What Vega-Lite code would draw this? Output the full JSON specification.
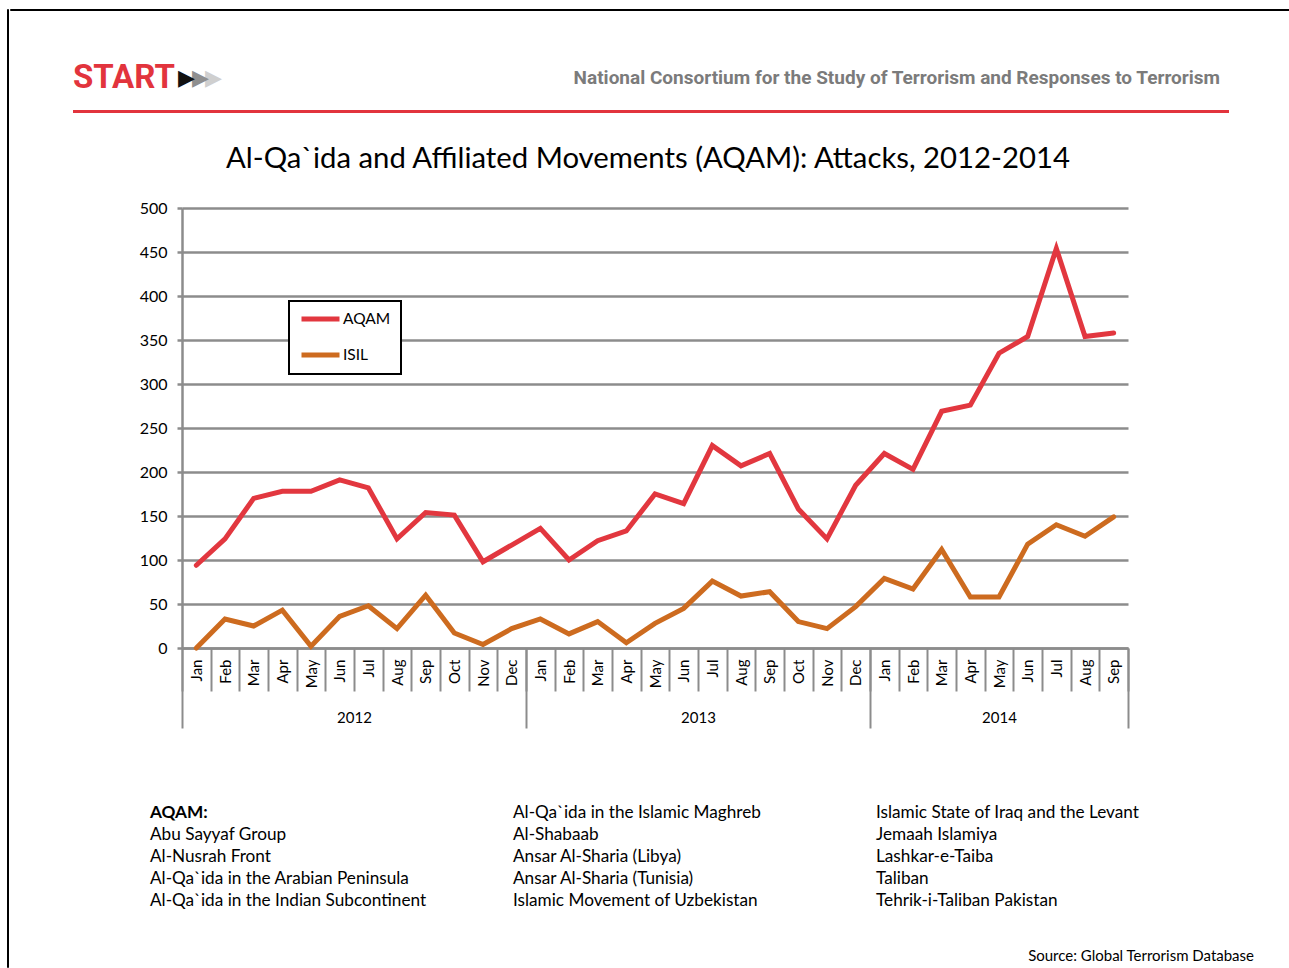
{
  "$schema": "https://vega.github.io/schema/vega-lite/v6.json",
  "autosize": {"type": "pad"},
  "padding": {"left": 6, "top": 8, "right": 0, "bottom": 0},
  "background": "white",
  "config": {
    "view": {"stroke": null},
    "font": "Lato",
    "legend": {"strokeWidth": 2}
  },
  "datasets": {
    "attacks": [
      {"month": "2012-01", "series": "AQAM", "attacks": 94},
      {"month": "2012-02", "series": "AQAM", "attacks": 124},
      {"month": "2012-03", "series": "AQAM", "attacks": 170},
      {"month": "2012-04", "series": "AQAM", "attacks": 178},
      {"month": "2012-05", "series": "AQAM", "attacks": 178},
      {"month": "2012-06", "series": "AQAM", "attacks": 191},
      {"month": "2012-07", "series": "AQAM", "attacks": 182},
      {"month": "2012-08", "series": "AQAM", "attacks": 124},
      {"month": "2012-09", "series": "AQAM", "attacks": 154},
      {"month": "2012-10", "series": "AQAM", "attacks": 151},
      {"month": "2012-11", "series": "AQAM", "attacks": 98},
      {"month": "2012-12", "series": "AQAM", "attacks": 117},
      {"month": "2013-01", "series": "AQAM", "attacks": 136},
      {"month": "2013-02", "series": "AQAM", "attacks": 100},
      {"month": "2013-03", "series": "AQAM", "attacks": 122},
      {"month": "2013-04", "series": "AQAM", "attacks": 133},
      {"month": "2013-05", "series": "AQAM", "attacks": 175},
      {"month": "2013-06", "series": "AQAM", "attacks": 164},
      {"month": "2013-07", "series": "AQAM", "attacks": 230},
      {"month": "2013-08", "series": "AQAM", "attacks": 207},
      {"month": "2013-09", "series": "AQAM", "attacks": 221},
      {"month": "2013-10", "series": "AQAM", "attacks": 158},
      {"month": "2013-11", "series": "AQAM", "attacks": 124},
      {"month": "2013-12", "series": "AQAM", "attacks": 185},
      {"month": "2014-01", "series": "AQAM", "attacks": 221},
      {"month": "2014-02", "series": "AQAM", "attacks": 203},
      {"month": "2014-03", "series": "AQAM", "attacks": 269},
      {"month": "2014-04", "series": "AQAM", "attacks": 276},
      {"month": "2014-05", "series": "AQAM", "attacks": 335},
      {"month": "2014-06", "series": "AQAM", "attacks": 354},
      {"month": "2014-07", "series": "AQAM", "attacks": 454},
      {"month": "2014-08", "series": "AQAM", "attacks": 354},
      {"month": "2014-09", "series": "AQAM", "attacks": 358},
      {"month": "2012-01", "series": "ISIL", "attacks": 0},
      {"month": "2012-02", "series": "ISIL", "attacks": 33},
      {"month": "2012-03", "series": "ISIL", "attacks": 25},
      {"month": "2012-04", "series": "ISIL", "attacks": 43},
      {"month": "2012-05", "series": "ISIL", "attacks": 2},
      {"month": "2012-06", "series": "ISIL", "attacks": 36},
      {"month": "2012-07", "series": "ISIL", "attacks": 48},
      {"month": "2012-08", "series": "ISIL", "attacks": 22},
      {"month": "2012-09", "series": "ISIL", "attacks": 60},
      {"month": "2012-10", "series": "ISIL", "attacks": 17},
      {"month": "2012-11", "series": "ISIL", "attacks": 4},
      {"month": "2012-12", "series": "ISIL", "attacks": 22},
      {"month": "2013-01", "series": "ISIL", "attacks": 33},
      {"month": "2013-02", "series": "ISIL", "attacks": 16},
      {"month": "2013-03", "series": "ISIL", "attacks": 30},
      {"month": "2013-04", "series": "ISIL", "attacks": 6},
      {"month": "2013-05", "series": "ISIL", "attacks": 28},
      {"month": "2013-06", "series": "ISIL", "attacks": 45},
      {"month": "2013-07", "series": "ISIL", "attacks": 76},
      {"month": "2013-08", "series": "ISIL", "attacks": 59},
      {"month": "2013-09", "series": "ISIL", "attacks": 64},
      {"month": "2013-10", "series": "ISIL", "attacks": 30},
      {"month": "2013-11", "series": "ISIL", "attacks": 22},
      {"month": "2013-12", "series": "ISIL", "attacks": 47},
      {"month": "2014-01", "series": "ISIL", "attacks": 79},
      {"month": "2014-02", "series": "ISIL", "attacks": 67},
      {"month": "2014-03", "series": "ISIL", "attacks": 112},
      {"month": "2014-04", "series": "ISIL", "attacks": 58},
      {"month": "2014-05", "series": "ISIL", "attacks": 58},
      {"month": "2014-06", "series": "ISIL", "attacks": 118},
      {"month": "2014-07", "series": "ISIL", "attacks": 140},
      {"month": "2014-08", "series": "ISIL", "attacks": 127},
      {"month": "2014-09", "series": "ISIL", "attacks": 149}
    ],
    "groups": [
      {"column": "c1", "line": "l1", "name": "AQAM:"},
      {"column": "c1", "line": "l2", "name": "Abu Sayyaf Group"},
      {"column": "c1", "line": "l3", "name": "Al-Nusrah Front"},
      {"column": "c1", "line": "l4", "name": "Al-Qa`ida in the Arabian Peninsula"},
      {"column": "c1", "line": "l5", "name": "Al-Qa`ida in the Indian Subcontinent"},
      {"column": "c2", "line": "l1", "name": "Al-Qa`ida in the Islamic Maghreb"},
      {"column": "c2", "line": "l2", "name": "Al-Shabaab"},
      {"column": "c2", "line": "l3", "name": "Ansar Al-Sharia (Libya)"},
      {"column": "c2", "line": "l4", "name": "Ansar Al-Sharia (Tunisia)"},
      {"column": "c2", "line": "l5", "name": "Islamic Movement of Uzbekistan"},
      {"column": "c3", "line": "l1", "name": "Islamic State of Iraq and the Levant"},
      {"column": "c3", "line": "l2", "name": "Jemaah Islamiya"},
      {"column": "c3", "line": "l3", "name": "Lashkar-e-Taiba"},
      {"column": "c3", "line": "l4", "name": "Taliban"},
      {"column": "c3", "line": "l5", "name": "Tehrik-i-Taliban Pakistan"}
    ]
  },
  "spacing": 0,
  "resolve": {"scale": {"color": "independent"}, "legend": {"color": "independent"}},
  "hconcat": [
    {
      "width": 1, "height": 958,
      "view": {"stroke": "black", "strokeWidth": 1},
      "data": {"values": [{}]},
      "mark": {"type": "point", "size": 0, "opacity": 0, "strokeWidth": 0}
    },
    {
      "spacing": 30.5,
      "resolve": {"scale": {"color": "independent"}, "legend": {"color": "independent"}},
      "vconcat": [
        {
          "width": 1280, "height": 1,
          "view": {"stroke": "black", "strokeWidth": 1},
          "data": {"values": [{}]},
          "mark": {"type": "point", "size": 0, "opacity": 0, "strokeWidth": 0}
        },
        {
          "spacing": 0,
          "hconcat": [
            {
              "width": 60.5, "height": 1,
              "data": {"values": [{}]},
              "mark": {"type": "point", "size": 0, "opacity": 0, "strokeWidth": 0}
            },
            {
              "width": 1156, "height": 34,
              "layer": [
                {
                  "data": {"values": [{"side": "left", "part": "text", "label": "START"}]},
                  "mark": {"type": "text", "align": "left", "baseline": "middle", "font": "Roboto", "fontWeight": "bold", "fontSize": 33, "color": "#E2343D"},
                  "encoding": {
                    "x": {"field": "side", "type": "nominal", "scale": {"type": "point", "padding": 0, "domain": ["left", "right"]},
                          "axis": {"orient": "top", "title": null, "labels": false, "ticks": false, "domain": false, "grid": false, "minExtent": 35.5, "maxExtent": 35.5}},
                    "y": {"field": "part", "type": "nominal", "scale": {"type": "point", "padding": 0, "domain": ["text", "rule"]}, "axis": null},
                    "text": {"field": "label"}
                  }
                },
                {
                  "data": {"values": [{"side": "left", "part": "text", "label": "▶"}]},
                  "mark": {"type": "text", "align": "left", "baseline": "middle", "font": "DejaVu Sans", "fontSize": 22, "color": "#cfcfcf", "dx": 132},
                  "encoding": {
                    "x": {"field": "side", "type": "nominal"},
                    "y": {"field": "part", "type": "nominal"},
                    "text": {"field": "label"}
                  }
                },
                {
                  "data": {"values": [{"side": "left", "part": "text", "label": "▶"}]},
                  "mark": {"type": "text", "align": "left", "baseline": "middle", "font": "DejaVu Sans", "fontSize": 22, "color": "#8f8f8f", "dx": 119},
                  "encoding": {
                    "x": {"field": "side", "type": "nominal"},
                    "y": {"field": "part", "type": "nominal"},
                    "text": {"field": "label"}
                  }
                },
                {
                  "data": {"values": [{"side": "left", "part": "text", "label": "▶"}]},
                  "mark": {"type": "text", "align": "left", "baseline": "middle", "font": "DejaVu Sans", "fontSize": 22, "color": "#111111", "dx": 105},
                  "encoding": {
                    "x": {"field": "side", "type": "nominal"},
                    "y": {"field": "part", "type": "nominal"},
                    "text": {"field": "label"}
                  }
                },
                {
                  "data": {"values": [{"side": "right", "part": "text", "label": "National Consortium for the Study of Terrorism and Responses to Terrorism"}]},
                  "mark": {"type": "text", "align": "right", "baseline": "middle", "font": "Roboto", "fontWeight": "bold", "fontSize": 19, "color": "#7b7b7b", "dx": -9},
                  "encoding": {
                    "x": {"field": "side", "type": "nominal"},
                    "y": {"field": "part", "type": "nominal"},
                    "text": {"field": "label"}
                  }
                },
                {
                  "data": {"values": [{"part": "rule"}]},
                  "mark": {"type": "rule", "color": "#E2343D", "strokeWidth": 3},
                  "encoding": {
                    "y": {"field": "part", "type": "nominal"}
                  }
                }
              ]
            }
          ]
        },
        {
          "spacing": 0,
          "resolve": {"scale": {"color": "independent"}, "legend": {"color": "independent"}},
          "hconcat": [
            {
              "width": 111.5, "height": 1,
              "data": {"values": [{}]},
              "mark": {"type": "point", "size": 0, "opacity": 0, "strokeWidth": 0}
            },
            {
              "width": 946, "height": 440,
              "title": {"text": "Al-Qa`ida and Affiliated Movements (AQAM): Attacks, 2012-2014", "font": "Lato", "fontSize": 29.3, "fontWeight": "normal", "color": "black", "anchor": "middle", "frame": "group", "dx": -7, "offset": 26},
              "data": {"name": "attacks"},
              "layer": [
                {
                  "mark": {"type": "line", "strokeWidth": 5, "strokeJoin": "miter", "strokeCap": "round"},
                  "encoding": {
                    "x": {"field": "month", "type": "ordinal", "bandPosition": 0.5,
                          "scale": {"type": "band", "paddingInner": 0, "paddingOuter": 0},
                          "axis": {"title": null, "orient": "bottom", "labelAngle": -90, "labelOverlap": false,
                                   "labelExpr": "isValid(datum.value) ? ['Jan','Feb','Mar','Apr','May','Jun','Jul','Aug','Sep','Oct','Nov','Dec'][toNumber(slice(datum.value, 5)) - 1] : ''",
                                   "tickBand": "extent", "tickSize": 43, "tickColor": "#8c8c8c", "tickWidth": 2,
                                   "domainColor": "#8c8c8c", "domainWidth": 2.5,
                                   "labelPadding": -32, "labelFont": "Lato", "labelFontSize": 15, "labelColor": "black", "grid": false}},
                    "y": {"field": "attacks", "type": "quantitative", "scale": {"domain": [0, 500], "nice": false},
                          "axis": {"title": null, "values": [0, 50, 100, 150, 200, 250, 300, 350, 400, 450, 500],
                                   "grid": true, "gridColor": "#8c8c8c", "gridWidth": 2.5,
                                   "domainColor": "#8c8c8c", "domainWidth": 2.5,
                                   "tickSize": 5, "tickColor": "#8c8c8c", "tickWidth": 2.5,
                                   "labelPadding": 10, "labelFont": "Lato", "labelFontSize": 16, "labelColor": "black",
                                   "minExtent": 60, "maxExtent": 60}},
                    "color": {"field": "series", "type": "nominal",
                              "scale": {"domain": ["AQAM", "ISIL"], "range": ["#E2373F", "#CD6B1F"]},
                              "legend": {"title": null, "orient": "none", "legendX": 107, "legendY": 93,
                                         "symbolType": "stroke", "symbolStrokeWidth": 5, "symbolSize": 1444,
                                         "strokeColor": "black", "fillColor": "white", "padding": 10,
                                         "clipHeight": 16, "rowPadding": 19,
                                         "labelFont": "Lato", "labelFontSize": 15.5, "labelColor": "black", "labelOffset": 1}}
                  }
                },
                {
                  "mark": {"type": "point", "opacity": 0},
                  "encoding": {
                    "x": {"field": "month", "type": "ordinal", "bandPosition": 0.5,
                          "axis": {"title": null, "orient": "bottom", "labelAngle": 0, "labelOverlap": false,
                                   "labelExpr": "datum.value == '2012-06' ? '2012' : datum.value == '2013-06' ? '2013' : datum.value == '2014-05' ? '2014' : ''",
                                   "labelOffset": {"condition": {"test": "datum.value == '2014-05'", "value": 0}, "value": 14.33},
                                   "tickBand": "extent", "tickSize": 80, "tickColor": "#8c8c8c", "tickWidth": 2,
                                   "tickOpacity": {"condition": {"test": "!isValid(datum.value) || slice(datum.value, 5) == '12' || datum.value == '2014-09'", "value": 1}, "value": 0},
                                   "domain": false, "grid": false,
                                   "labelPadding": -18, "labelFont": "Lato", "labelFontSize": 15, "labelColor": "black"}}
                  }
                }
              ],
              "resolve": {"axis": {"x": "independent"}}
            }
          ]
        },
        {
          "spacing": 0,
          "hconcat": [
            {
              "width": 139.5, "height": 1,
              "data": {"values": [{}]},
              "mark": {"type": "point", "size": 0, "opacity": 0, "strokeWidth": 0}
            },
            {
              "width": 1089, "height": 88,
              "data": {"name": "groups"},
              "title": {"text": "Source: Global Terrorism Database", "orient": "bottom", "anchor": "end", "frame": "group", "dx": 15, "offset": 40, "font": "Lato", "fontSize": 15, "fontWeight": "normal", "color": "black"},
              "encoding": {
                "x": {"field": "column", "type": "nominal", "bandPosition": 0,
                      "scale": {"type": "band", "paddingInner": 0, "paddingOuter": 0},
                      "axis": {"orient": "top", "title": null, "labels": false, "ticks": false, "domain": false, "grid": false, "minExtent": 52.5, "maxExtent": 52.5}},
                "y": {"field": "line", "type": "nominal", "scale": {"type": "point", "padding": 0}, "axis": null},
                "text": {"field": "name"}
              },
              "layer": [
                {
                  "transform": [{"filter": "datum.name == 'AQAM:'"}],
                  "mark": {"type": "text", "align": "left", "baseline": "middle", "font": "Lato", "fontSize": 17.2, "fontWeight": "bold", "color": "black"}
                },
                {
                  "transform": [{"filter": "datum.name != 'AQAM:'"}],
                  "mark": {"type": "text", "align": "left", "baseline": "middle", "font": "Lato", "fontSize": 17.2, "color": "black"}
                }
              ]
            }
          ]
        }
      ]
    }
  ]
}
